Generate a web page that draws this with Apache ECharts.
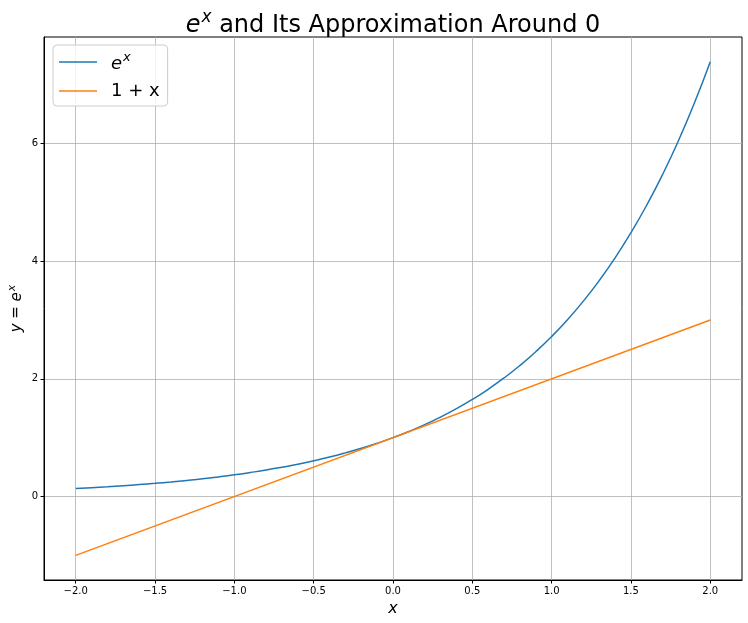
<!DOCTYPE html>
<html><head><meta charset="utf-8">
<script src="https://cdn.jsdelivr.net/npm/echarts@6/dist/echarts.min.js"></script>
<style>html,body{margin:0;padding:0;background:#fff}#c{width:748px;height:623px}</style>
</head><body><div id="c"></div>
<script>
// Data
var xValues = [-2.0,-1.9,-1.8,-1.7,-1.6,-1.5,-1.4,-1.3,-1.2,-1.1,-1.0,-0.9,-0.8,-0.7,-0.6,-0.5,-0.4,-0.3,-0.2,-0.1,0.0,0.1,0.2,0.3,0.4,0.5,0.6,0.7,0.8,0.9,1.0,1.1,1.2,1.3,1.4,1.5,1.6,1.7,1.8,1.9,2.0];
var expValues = [0.135,0.150,0.165,0.183,0.202,0.223,0.247,0.273,0.301,0.333,0.368,0.407,0.449,0.497,0.549,0.607,0.670,0.741,0.819,0.905,1.000,1.105,1.221,1.350,1.492,1.649,1.822,2.014,2.226,2.460,2.718,3.004,3.320,3.669,4.055,4.482,4.953,5.474,6.050,6.686,7.389];
var lineX = [-2.0, 2.0];
var lineValues = [-1.0, 3.0];
var xTicks = [-2.0,-1.5,-1.0,-0.5,0.0,0.5,1.0,1.5,2.0];
var yTicks = [0,2,4,6];
var seriesNames = ['exp', 'lin'];

var font = 'DejaVu Sans';
var chart = echarts.init(document.getElementById('c'), null, {renderer:'canvas'});
function pairs(xs, ys){ return xs.map(function(x,i){return [x, ys[i]];}); }
function fmtX(v){ var s = v.toFixed(1); return s.replace('-', '\u2212'); }

chart.setOption({
  animation: false,
  backgroundColor: '#fff',
  title: {
    text: '{it|e}{sup|x}{n| and Its Approximation Around 0}',
    left: 388, top: 4, textAlign: 'center',
    textStyle: {
      fontFamily: font, fontWeight: 'normal', fontSize: 24, color: '#000',
      rich: {
        it: {fontFamily: font, fontStyle: 'italic', fontSize: 24, color:'#000', verticalAlign:'bottom'},
        sup: {fontFamily: font, fontStyle: 'italic', fontSize: 17, color:'#000', verticalAlign:'top', padding:[0,0,12,1]},
        n: {fontFamily: font, fontSize: 24, color:'#000', verticalAlign:'bottom'}
      }
    }
  },
  legend: {
    orient: 'vertical', left: 53, top: 45,
    backgroundColor: 'rgba(255,255,255,0.8)', borderColor: '#cccccc', borderWidth: 1, borderRadius: 4,
    padding: [6, 8, 6, 6], itemGap: 9, itemWidth: 38, itemHeight: 18,
    icon: 'path://M0,8.5 L38,8.5 L38,10 L0,10 Z',
    data: seriesNames,
    formatter: function(name){ return name === 'exp' ? '{it|e}{sup|x}' : '{n|1 + x}'; },
    textStyle: {
      fontFamily: font, fontSize: 18, color: '#000', padding: [0,0,0,9],
      rich: {
        it: {fontFamily: font, fontStyle:'italic', fontSize: 18, color:'#000', verticalAlign:'bottom'},
        sup: {fontFamily: font, fontStyle:'italic', fontSize: 13, color:'#000', verticalAlign:'top', padding:[0,0,9,1]},
        n: {fontFamily: font, fontSize: 18, color:'#000'}
      }
    }
  },
  grid: {left: 44, right: 6, top: 37, bottom: 43, containLabel: false, outerBoundsMode: 'none',
         show: true, borderColor: '#000', borderWidth: 1, backgroundColor: 'transparent'},
  xAxis: {
    type: 'value', min: -2.2, max: 2.2,
    name: 'x', nameLocation: 'middle', nameGap: 21, nameMoveOverlap: false,
    nameTextStyle: {fontFamily: font, fontStyle: 'italic', fontSize: 16, color: '#000'},
    axisLine: {show: true, onZero: false, lineStyle: {color: '#000', width: 1}},
    axisTick: {show: true, inside: false, length: 3.5, lineStyle: {color: '#000'}, customValues: xTicks},
    axisLabel: {fontFamily: font, fontSize: 10, color: '#000', margin: 6, customValues: xTicks, formatter: fmtX},
    splitLine: {show: true, lineStyle: {color: '#b0b0b0', width: 0.8}}
  },
  yAxis: {
    type: 'value', min: -1.419, max: 7.808,
    name: '{it|y} = {it|e}{sup|x}', nameLocation: 'middle', nameGap: 19, nameRotate: 90, nameMoveOverlap: false,
    nameTextStyle: {
      fontFamily: font, fontSize: 15, color: '#000',
      rich: {
        it: {fontFamily: font, fontStyle:'italic', fontSize: 15, color:'#000', verticalAlign:'bottom'},
        sup: {fontFamily: font, fontStyle:'italic', fontSize: 11, color:'#000', verticalAlign:'top', padding:[0,0,7,1]}
      }
    },
    axisLine: {show: true, onZero: false, lineStyle: {color: '#000', width: 1}},
    axisTick: {show: true, inside: false, length: 3.5, lineStyle: {color: '#000'}, customValues: yTicks},
    axisLabel: {fontFamily: font, fontSize: 10, color: '#000', margin: 6, customValues: yTicks},
    splitLine: {show: true, lineStyle: {color: '#b0b0b0', width: 0.8}}
  },
  series: [
    {name: 'exp', type: 'line', data: pairs(xValues, expValues), smooth: true, showSymbol: false, symbol: 'none',
     lineStyle: {color: '#1f77b4', width: 1.5}, itemStyle: {color: '#1f77b4'}},
    {name: 'lin', type: 'line', data: pairs(lineX, lineValues), showSymbol: false, symbol: 'none',
     lineStyle: {color: '#ff7f0e', width: 1.5}, itemStyle: {color: '#ff7f0e'}}
  ]
});
</script></body></html>
